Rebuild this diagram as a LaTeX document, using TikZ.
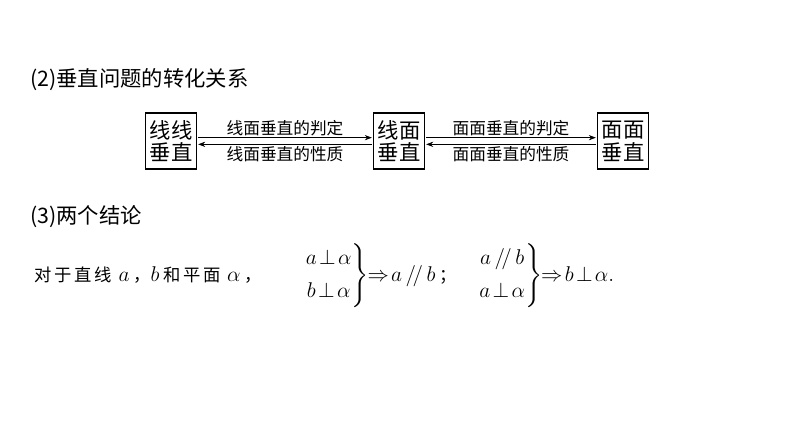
\documentclass[tikz,border=0pt]{standalone}
\usepackage{fix-cm}
\usepackage{amsmath,amssymb}
\usepackage{fontspec}
\newfontfamily\cjk{Noto Sans CJK SC}
\usetikzlibrary{positioning,arrows.meta}
\tikzset{>=Stealth}
\tikzset{
  topic/.style={anchor=west,font=\cjk\fontsize{16}{18}\selectfont,inner sep=0},
  statebox/.style={draw,line width=0.8pt,inner sep=2pt,align=center,font=\cjk\fontsize{16}{17}\selectfont,minimum width=38pt,minimum height=42pt},
  rule/.style={font=\cjk\fontsize{12.5}{14}\selectfont,inner sep=1pt},
  link/.style={->,line width=0.5pt,shorten >=1pt,shorten <=1pt}
}
\begin{document}
\begin{tikzpicture}[x=0.75pt,y=-0.75pt]
  \useasboundingbox (0,0) rectangle (794,447);
  % headings
  \node[topic] (head2) at (30,80) {(2)垂直问题的转化关系};
  \node[topic] (head3) at (30,217) {(3)两个结论};

  % boxes
  \node[statebox] (line) at (171,141) {线线\\垂直};
  \node[statebox] (plane) at (399,141) {线面\\垂直};
  \node[statebox] (face) at (623,141) {面面\\垂直};

  % arrows and labels
  \draw[link] ([yshift=2.5pt]line.east) -- ([yshift=2.5pt]plane.west) node[rule,midway,above] {线面垂直的判定};
  \draw[link] ([yshift=-2.5pt]plane.west) -- ([yshift=-2.5pt]line.east) node[rule,midway,below] {线面垂直的性质};
  \draw[link] ([yshift=2.5pt]plane.east) -- ([yshift=2.5pt]face.west) node[rule,midway,above] {面面垂直的判定};
  \draw[link] ([yshift=-2.5pt]face.west) -- ([yshift=-2.5pt]plane.east) node[rule,midway,below] {面面垂直的性质};

  % conclusions
  \node[anchor=west,inner sep=0,font=\fontsize{16}{18}\selectfont] (rest) at (34,276)
    {{\cjk\fontsize{13}{15}\selectfont 对\,于\,直\,线}\ $a$\,{\cjk\fontsize{13}{15}\selectfont ，}$b$\,{\cjk\fontsize{13}{15}\selectfont 和\,平\,面}\ $\alpha$\,{\cjk\fontsize{13}{15}\selectfont ，}\qquad
     $\left.\begin{matrix}a\!\perp\!\alpha\\[7pt] b\!\perp\!\alpha\end{matrix}\right\}\!\!\Rightarrow\! a\,/\!/\,b$\,{\cjk\fontsize{13}{15}\selectfont ；}\quad
     $\left.\begin{matrix}a\,/\!/\,b\\[7pt] a\!\perp\!\alpha\end{matrix}\right\}\!\!\Rightarrow\! b\!\perp\!\alpha.$};
\end{tikzpicture}
\end{document}
